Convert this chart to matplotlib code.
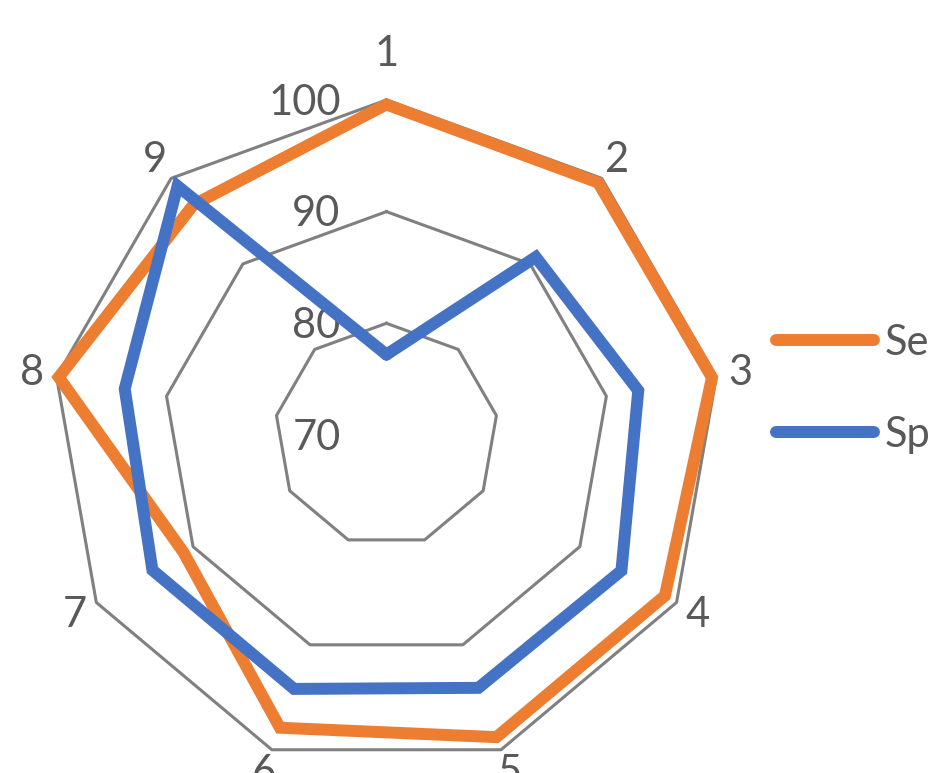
import numpy as np
import matplotlib
matplotlib.use('Agg')
from matplotlib import pyplot as plt

plt.rcParams['font.family'] = ['Lato', 'DejaVu Sans']

# Categories around the radar, clockwise from the top
categories = ['1', '2', '3', '4', '5', '6', '7', '8', '9']
# Series values
se_values = [99.6, 99.5, 99.6, 98.8, 98.8, 97.9, 91.0, 99.8, 96.9]
sp_values = [77.2, 90.8, 92.9, 94.3, 94.1, 94.2, 94.2, 93.8, 99.1]
# Radial scale
r_ticks = [70, 80, 90, 100]
series_names = ['Se', 'Sp']

orange = '#ED7D31'
blue = '#4472C4'
grid_gray = '#808080'
text_gray = '#595959'

fig = plt.figure(figsize=(9.39, 7.73), dpi=100)
# Axes box is square in pixels so the radar sits where the reference has it
ax = fig.add_axes([0.0548, 0.0039, 0.7135, 0.8668], projection='polar')
ax.set_theta_offset(np.pi / 2)
ax.set_theta_direction(-1)
ax.set_ylim(r_ticks[0], r_ticks[-1])

n = len(categories)
theta = np.linspace(0, 2 * np.pi, n, endpoint=False)
theta_closed = np.append(theta, theta[0])

# Hide the default polar furniture
ax.grid(False)
ax.spines['polar'].set_visible(False)
ax.set_xticks([])
ax.set_yticks([])
ax.set_facecolor('none')

# Polygon gridlines (70 collapses to the centre)
for v in r_ticks[1:]:
    ax.plot(theta_closed, [v] * (n + 1), color=grid_gray, lw=2.2,
            clip_on=False, zorder=1)

# Radial tick labels, right aligned left of the first spoke
for v in r_ticks:
    ax.annotate(str(v), xy=(0, v), xytext=(-33, -2), textcoords='offset points',
                ha='right', va='center', fontsize=30, color=text_gray,
                annotation_clip=False)

# Series
for vals, col, name in [(se_values, orange, series_names[0]),
                        (sp_values, blue, series_names[1])]:
    ax.plot(theta_closed, vals + vals[:1], color=col, lw=8.6, label=name,
            solid_capstyle='round', solid_joinstyle='miter',
            clip_on=False, zorder=3)

# Category labels outside the outer ring
for t, lab in zip(theta, categories):
    r_lab = 104.1 if abs(np.cos(t)) > 0.95 and np.cos(t) > 0 else 102.2
    ax.text(t, r_lab, lab, ha='center', va='center', fontsize=30,
            color=text_gray, clip_on=False)

leg = fig.legend(loc='center left', bbox_to_anchor=(0.787, 0.497), frameon=False,
                 fontsize=30, handlelength=2.35, handletextpad=0.25,
                 labelspacing=1.3)
for txt in leg.get_texts():
    txt.set_color(text_gray)

fig.savefig('out.png', dpi=100)
